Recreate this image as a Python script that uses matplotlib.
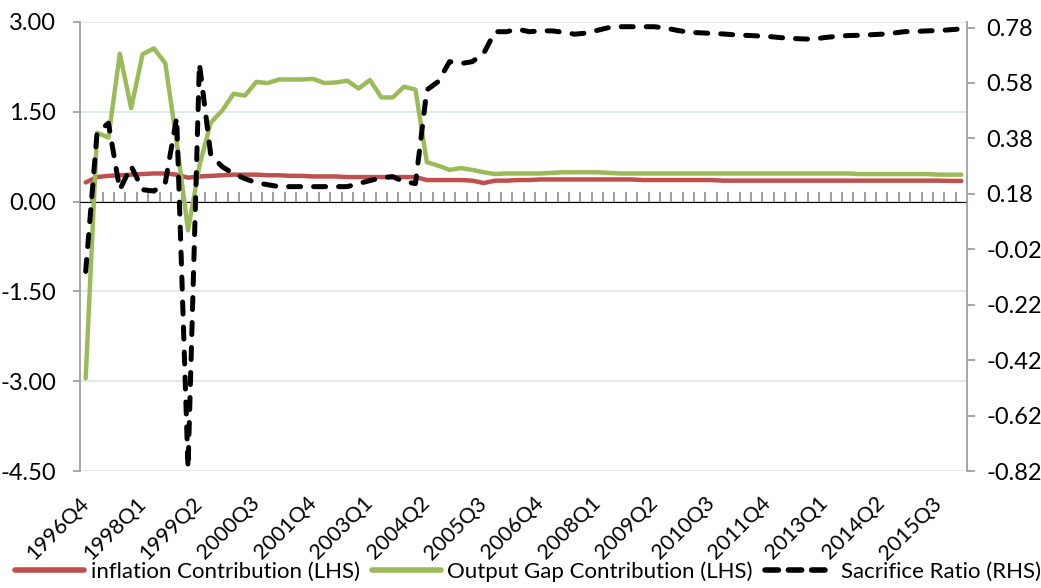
import numpy as np
import pandas as pd
import matplotlib
matplotlib.use("Agg")
import matplotlib.pyplot as plt
from matplotlib.lines import Line2D

plt.rcParams['font.family'] = ['Lato', 'DejaVu Sans']

quarters = [str(p) for p in pd.period_range('1996Q4', '2016Q1', freq='Q')]
tick_labels = ['1996Q4', '1998Q1', '1999Q2', '2000Q3', '2001Q4', '2003Q1', '2004Q2', '2005Q3',
               '2006Q4', '2008Q1', '2009Q2', '2010Q3', '2011Q4', '2013Q1', '2014Q2', '2015Q3']

inflation = [0.32, 0.41, 0.43, 0.44, 0.45, 0.46, 0.47, 0.47, 0.45, 0.40,
             0.42, 0.43, 0.44, 0.45, 0.45, 0.45, 0.44, 0.44, 0.43, 0.43,
             0.42, 0.42, 0.42, 0.41, 0.41, 0.41, 0.41, 0.41, 0.41, 0.41,
             0.36, 0.36, 0.36, 0.36, 0.35, 0.31, 0.35, 0.35, 0.36, 0.36,
             0.37, 0.37, 0.37, 0.37, 0.37, 0.37, 0.37, 0.37, 0.37, 0.36,
             0.36, 0.36, 0.36, 0.36, 0.36, 0.36, 0.35, 0.35, 0.35, 0.35,
             0.35, 0.35, 0.35, 0.35, 0.35, 0.35, 0.35, 0.35, 0.35, 0.35,
             0.35, 0.35, 0.35, 0.35, 0.35, 0.35, 0.345, 0.345]

output_gap = [-2.95, 1.15, 1.07, 2.47, 1.56, 2.46, 2.56, 2.31, 1.00, -0.48,
              0.60, 1.32, 1.52, 1.80, 1.77, 2.00, 1.98, 2.04, 2.04, 2.04,
              2.05, 1.98, 1.99, 2.02, 1.89, 2.03, 1.74, 1.74, 1.92, 1.87,
              0.66, 0.60, 0.53, 0.56, 0.53, 0.49, 0.46, 0.47, 0.47, 0.47,
              0.47, 0.48, 0.49, 0.49, 0.49, 0.49, 0.48, 0.47, 0.47, 0.47,
              0.47, 0.47, 0.47, 0.47, 0.47, 0.47, 0.47, 0.47, 0.47, 0.47,
              0.47, 0.47, 0.47, 0.47, 0.47, 0.47, 0.47, 0.47, 0.46, 0.46,
              0.46, 0.46, 0.46, 0.46, 0.46, 0.45, 0.45, 0.45]

sacrifice = [-0.10, 0.40, 0.435, 0.195, 0.28, 0.195, 0.19, 0.22, 0.455, -0.81,
             0.65, 0.32, 0.278, 0.253, 0.235, 0.22, 0.213, 0.206, 0.206, 0.206,
             0.206, 0.206, 0.206, 0.206, 0.217, 0.228, 0.238, 0.242, 0.224, 0.217,
             0.555, 0.585, 0.657, 0.65, 0.657, 0.687, 0.765, 0.765, 0.774, 0.765,
             0.768, 0.768, 0.763, 0.756, 0.760, 0.770, 0.780, 0.783, 0.783, 0.783,
             0.783, 0.778, 0.770, 0.763, 0.761, 0.759, 0.757, 0.754, 0.752, 0.750,
             0.748, 0.744, 0.741, 0.739, 0.738, 0.744, 0.748, 0.751, 0.752, 0.754,
             0.756, 0.760, 0.765, 0.766, 0.768, 0.769, 0.772, 0.775]

left_ticks = [-4.5, -3.0, -1.5, 0.0, 1.5, 3.0]
right_ticks = [-0.82, -0.62, -0.42, -0.22, -0.02, 0.18, 0.38, 0.58, 0.78]

RED = '#C0504D'
GREEN = '#9BBB59'
AXIS_GRAY = '#A0A0A0'
GRID = '#DCE4F0'
FS = 17

fig = plt.figure(figsize=(10.41, 5.88), dpi=100)
ax = fig.add_axes([80 / 1041, 1 - 471 / 588, (967 - 80) / 1041, (471 - 22) / 588])
x = np.arange(len(quarters))

ax.plot(x, inflation, color=RED, lw=3.2, solid_capstyle='round', solid_joinstyle='round', zorder=3)
ax.plot(x, output_gap, color=GREEN, lw=3.2, solid_capstyle='round', solid_joinstyle='round', zorder=3)
ax.set_xlim(-0.5, len(quarters) - 0.5)
ax.set_ylim(-4.5, 3.0)
ax.set_yticks(left_ticks)
ax.set_yticklabels([f'{v:.2f}' for v in left_ticks], fontsize=FS)
ax.yaxis.grid(True, color=GRID, lw=1.2)
ax.set_axisbelow(True)
for s in ['top', 'bottom', 'right']:
    ax.spines[s].set_visible(False)
ax.spines['left'].set_color(AXIS_GRAY)
ax.spines['left'].set_linewidth(1.3)
ax.tick_params(axis='y', direction='out', length=5, width=1.3, color=AXIS_GRAY, pad=12)

idx = [quarters.index(t) for t in tick_labels]
ax.set_xticks(idx)
ax.set_xticklabels(tick_labels, fontsize=15.5)
ax.tick_params(axis='x', length=0, pad=21)
for lab in ax.get_xticklabels():
    lab.set_rotation(45)
    lab.set_ha('right')
    lab.set_va('center')
    lab.set_rotation_mode('anchor')

secax = ax.secondary_xaxis(4.5 / 7.5)
secax.set_xticks(np.arange(0.5, len(quarters) - 0.5, 1))
secax.set_xticklabels([])
secax.spines['bottom'].set_color('#999999')
secax.spines['bottom'].set_linewidth(1.8)
secax.tick_params(axis='x', which='both', direction='out', length=7, width=1.3, color='#999999')
secax.set_zorder(2.5)

ax2 = ax.twinx()
ax2.plot(x, sacrifice, color='black', lw=3.6, linestyle=(0, (2.4, 2.6)),
         dash_capstyle='round', solid_joinstyle='round', zorder=4)
ax2.set_ylim(-0.82, 0.80)
ax2.set_yticks(right_ticks)
ax2.set_yticklabels([f'{v:.2f}' for v in right_ticks], fontsize=FS)
for s in ['top', 'bottom', 'left']:
    ax2.spines[s].set_visible(False)
ax2.spines['right'].set_color(AXIS_GRAY)
ax2.spines['right'].set_linewidth(1.3)
ax2.tick_params(axis='y', direction='out', length=6, width=1.3, color=AXIS_GRAY, pad=8)
ax2.set_xlim(-0.5, len(quarters) - 0.5)

handles = [Line2D([], [], color=RED, lw=4, solid_capstyle='round'),
           Line2D([], [], color=GREEN, lw=4, solid_capstyle='round'),
           Line2D([], [], color='black', lw=4, linestyle=(0, (2.4, 1.8)), dash_capstyle='round')]
labels = ['inflation Contribution (LHS)', 'Output Gap Contribution (LHS)', 'Sacrifice Ratio (RHS)']
fig.legend(handles, labels, loc='center', bbox_to_anchor=(0.507, 0.028), ncol=3, frameon=False,
           fontsize=16, handlelength=3.1, handletextpad=0.3, columnspacing=0.55,
           borderpad=0, borderaxespad=0)

fig.savefig('out.png', dpi=100)
